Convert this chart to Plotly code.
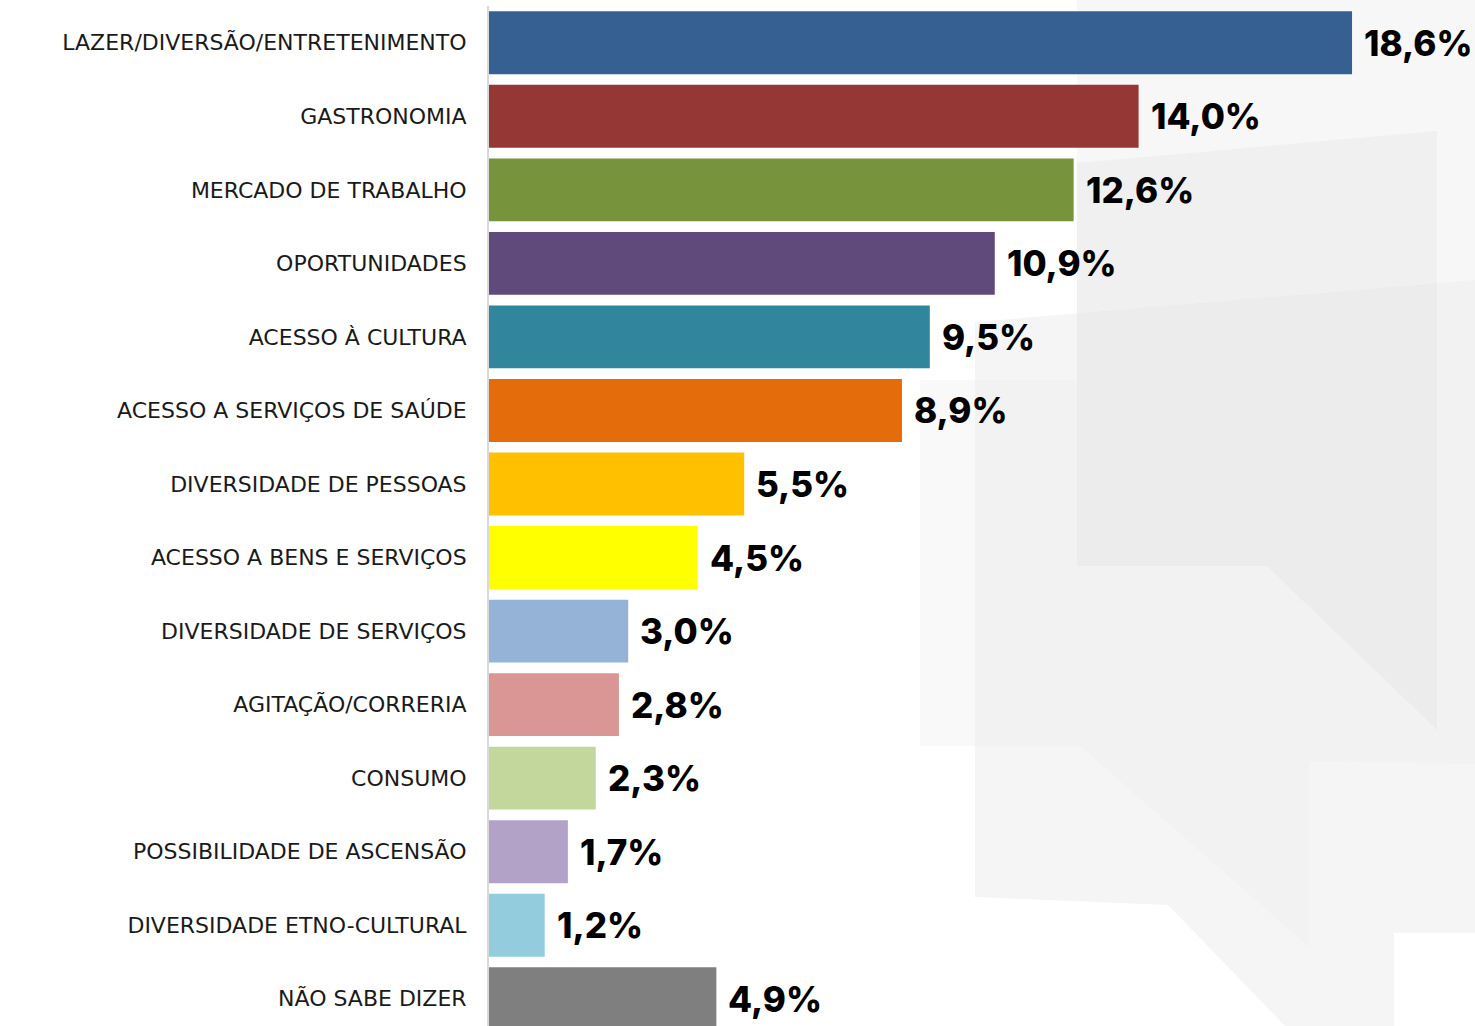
import plotly.graph_objects as go

categories = [
    "LAZER/DIVERSÃO/ENTRETENIMENTO",
    "GASTRONOMIA",
    "MERCADO DE TRABALHO",
    "OPORTUNIDADES",
    "ACESSO À CULTURA",
    "ACESSO A SERVIÇOS DE SAÚDE",
    "DIVERSIDADE DE PESSOAS",
    "ACESSO A BENS E SERVIÇOS",
    "DIVERSIDADE DE SERVIÇOS",
    "AGITAÇÃO/CORRERIA",
    "CONSUMO",
    "POSSIBILIDADE DE ASCENSÃO",
    "DIVERSIDADE ETNO-CULTURAL",
    "NÃO SABE DIZER",
]
values = [18.6, 14.0, 12.6, 10.9, 9.5, 8.9, 5.5, 4.5, 3.0, 2.8, 2.3, 1.7, 1.2, 4.9]
value_labels = ["18,6%", "14,0%", "12,6%", "10,9%", "9,5%", "8,9%", "5,5%", "4,5%",
                "3,0%", "2,8%", "2,3%", "1,7%", "1,2%", "4,9%"]
colors = ["#366092", "#953735", "#77933C", "#604A7B", "#31859C", "#E46C0A", "#FFC000",
          "#FFFF00", "#95B3D7", "#D99694", "#C3D69B", "#B3A2C7", "#93CDDD", "#7F7F7F"]

W, H = 1475, 1026
ML, MR, MT, MB = 489, 0, 6, 0
PW, PH = W - ML - MR, H - MT - MB

def px(x, y):
    return (x - ML) / PW, 1 - (y - MT) / PH

def poly(points):
    pts = [px(x, y) for x, y in points]
    return "M " + " L ".join(f"{a:.5f},{b:.5f}" for a, b in pts) + " Z"

# faint watermark shapes in the background (painted in order)
watermark = [
    ([(920, 380), (975, 380), (975, 746), (920, 746)], "#f9f9f9"),
    ([(975, 322), (1475, 280), (1475, 933), (1394, 933), (1394, 1026), (1285, 1026),
      (1168, 905), (975, 897)], "#f5f5f5"),
    ([(975, 380), (1437, 380), (1437, 283), (1475, 280), (1475, 764), (1309, 761),
      (1309, 947), (1080, 746), (975, 746)], "#f2f2f2"),
    ([(1077, 0), (1475, 0), (1475, 280), (1077, 313)], "#f7f7f7"),
    ([(1077, 163), (1437, 131), (1437, 283), (1077, 313)], "#f0f0f0"),
    ([(1077, 313), (1437, 283), (1437, 730), (1267, 566), (1077, 566)], "#ececec"),
]
shapes = [dict(type="path", xref="paper", yref="paper", path=poly(p), fillcolor=c,
               line=dict(width=0), layer="below") for p, c in watermark]

fig = go.Figure(go.Bar(
    x=values, y=categories, orientation="h",
    marker=dict(color=colors, line=dict(width=0)),
    hoverinfo="skip",
))

annotations = [dict(x=v, y=c, text=t, xref="x", yref="y", xanchor="left", yanchor="middle",
                    xshift=10, showarrow=False,
                    font=dict(family="Inter", size=35, color="#000000", weight=800))
               for v, c, t in zip(values, categories, value_labels)]

fig.update_layout(
    width=W, height=H, autosize=False,
    margin=dict(l=ML, r=MR, t=MT, b=MB, pad=0),
    paper_bgcolor="white", plot_bgcolor="rgba(0,0,0,0)",
    bargap=0.145, showlegend=False,
    shapes=shapes, annotations=annotations,
    xaxis=dict(range=[0, PW / 46.4], visible=False, fixedrange=True),
    yaxis=dict(type="category", range=[13.37, -0.5], showgrid=False, zeroline=False,
               showline=True, linecolor="#d9d9d9", linewidth=2, ticks="",
               ticklabelstandoff=16,
               tickfont=dict(family="DejaVu Sans", size=22, color="#1a1a1a"),
               fixedrange=True),
    font=dict(family="Inter"),
)

fig.write_html("out.html", config=dict(displayModeBar=False),
               post_script="document.body.style.margin='0px';")
